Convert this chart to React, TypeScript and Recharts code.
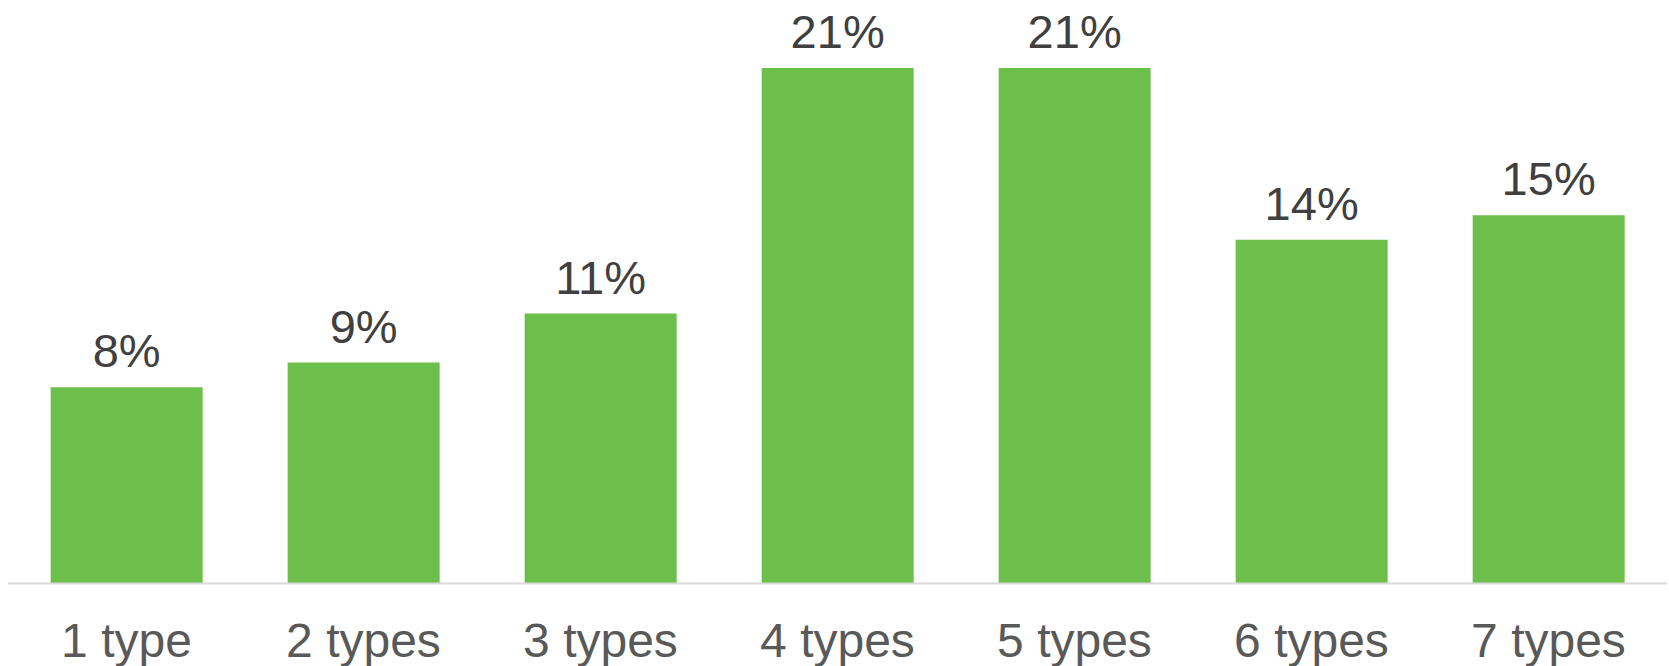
import React from "react";
import { BarChart, Bar, XAxis, YAxis, LabelList } from "recharts";

const categories = ["1 type", "2 types", "3 types", "4 types", "5 types", "6 types", "7 types"];
const shares = [8, 9, 11, 21, 21, 14, 15];

const data = categories.map((c, i) => ({ name: c, value: shares[i] }));

export default function App() {
  return (
    <div style={{ position: "absolute", left: 0, top: 0, width: 1669, height: 666, background: "#ffffff" }}>
      <BarChart
        width={1669}
        height={666}
        data={data}
        margin={{ top: 43.5, right: 2, bottom: 0, left: 8 }}
        barCategoryGap="18%"
      >
        <XAxis
          dataKey="name"
          height={82.5}
          tickLine={false}
          axisLine={{ stroke: "#d9d9d9", strokeWidth: 2 }}
          tickMargin={33}
          tick={{ fill: "#595959", fontSize: 48, fontFamily: "Liberation Sans, Arial, sans-serif" }}
          interval={0}
        />
        <YAxis hide domain={[0, 22]} />
        <Bar dataKey="value" fill="#6dbf4b" isAnimationActive={false}>
          <LabelList
            dataKey="value"
            position="top"
            offset={20}
            formatter={(v: number) => `${v}%`}
            style={{ fill: "#404040", fontSize: 47, fontFamily: "Liberation Sans, Arial, sans-serif" }}
          />
        </Bar>
      </BarChart>
    </div>
  );
}
